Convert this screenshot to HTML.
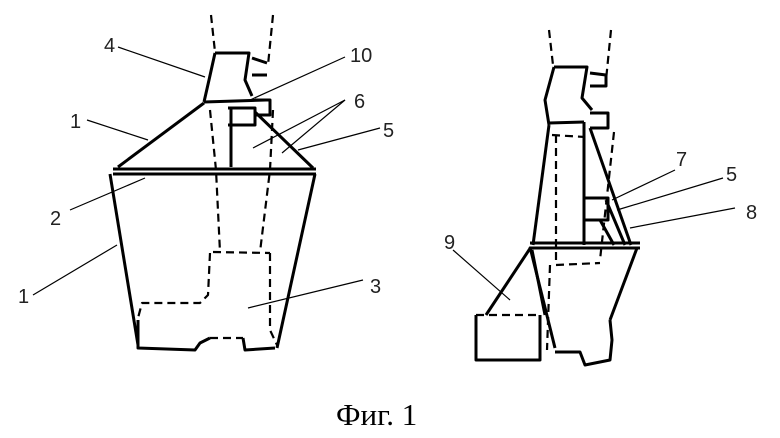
<!DOCTYPE html>
<html><head><meta charset="utf-8"><style>
html,body{margin:0;padding:0;background:#fff}
svg{display:block}
text{font-family:"Liberation Sans",sans-serif;font-size:20px;fill:#222}
</style></head><body>
<svg width="780" height="438" viewBox="0 0 780 438" xmlns="http://www.w3.org/2000/svg">
<g fill="none" stroke="#000" stroke-linejoin="round">
<g stroke-width="2.2" stroke-dasharray="8,5">
<path d="M211,15 L215,52"/><path d="M273,15 L268,65"/>
<path d="M210,110 L216,170 L220,252"/>
<path d="M273,110 L270,170 L260,252"/>
<path d="M213,252 L270,253"/>
<path d="M270,253 L270,330 L277,345"/>
<path d="M210,253 L208,295 L200,303 L142,303 L138,318"/>
<path d="M210,338 L243,338"/>
</g>
<g stroke-width="3">
<path d="M215,53 L249,53 L245,80 L252,96"/>
<path d="M215,53 L209,80 L204,102"/>
<path d="M252,58 L267,63 M252,75 L267,75"/>
<path d="M204,102 L266,100"/>
<path d="M255,100 L270,100 L270,115 L255,115"/>
<path d="M228,108 L255,108 L255,125 L228,125"/>
<path d="M231,108 L231,167"/>
<path d="M204,103 L118,167"/>
<path d="M255,112 L313,168"/>
<path d="M113,169 L316,169 M113,174 L316,174"/>
<path d="M110,174 L138,345"/>
<path d="M315,174 L277,348"/>
<path d="M138,320 L138,348 L195,350 L200,343 L210,338"/>
<path d="M243,338 L245,350 L275,348"/>
</g>
<g stroke-width="2.2" stroke-dasharray="8,5">
<path d="M549,30 L553,65"/><path d="M611,30 L606,80"/>
<path d="M556,135 L556,260"/>
<path d="M614,132 L600,260"/>
<path d="M552,135 L585,137"/>
<path d="M556,265 L600,263"/>
<path d="M550,265 L547,350"/>
<path d="M476,315 L540,315"/>
</g>
<g stroke-width="3">
<path d="M554,67 L587,67 L582,98 L592,110"/>
<path d="M554,67 L545,100 L549,125"/>
<path d="M590,73 L606,75 L606,86 L590,86"/>
<path d="M590,113 L608,113 L608,128 L590,128"/>
<path d="M549,123 L584,122"/>
<path d="M549,125 L533,245"/>
<path d="M584,122 L584,245"/>
<path d="M590,128 L631,245"/>
<path d="M585,198 L608,198 L608,220 L585,220"/>
<path d="M606,200 L625,245 M600,220 L614,245"/>
<path d="M530,243 L640,243 M530,248 L640,248"/>
<path d="M530,247 L555,348"/>
<path d="M532,250 L545,315"/>
<path d="M637,248 L610,320"/>
<path d="M531,247 L486,315"/>
<path d="M476,315 L476,360 L540,360 L540,315"/>
<path d="M555,352 L580,352 L585,365 L610,360 L612,340 L610,320"/>
</g>
<g stroke-width="1.2">
<path d="M118,47 L205,77"/><path d="M345,57 L250,100"/>
<path d="M345,100 L253,148"/><path d="M345,100 L282,153"/>
<path d="M380,128 L298,150"/><path d="M87,120 L148,140"/>
<path d="M70,210 L145,178"/><path d="M33,295 L117,245"/>
<path d="M363,280 L248,308"/>
<path d="M675,170 L612,200"/><path d="M723,178 L617,210"/>
<path d="M735,208 L630,228"/><path d="M453,250 L510,300"/>
</g>
</g>
<text x="104" y="52">4</text>
<text x="350" y="62">10</text>
<text x="354" y="108">6</text>
<text x="383" y="137">5</text>
<text x="70" y="128">1</text>
<text x="50" y="225">2</text>
<text x="18" y="303">1</text>
<text x="370" y="293">3</text>
<text x="676" y="166">7</text>
<text x="726" y="181">5</text>
<text x="746" y="219">8</text>
<text x="444" y="249">9</text>
<text x="336" y="425" style="font-family:'Liberation Serif',serif;font-size:31px;fill:#000">Фиг. 1</text>
</svg>
</body></html>
